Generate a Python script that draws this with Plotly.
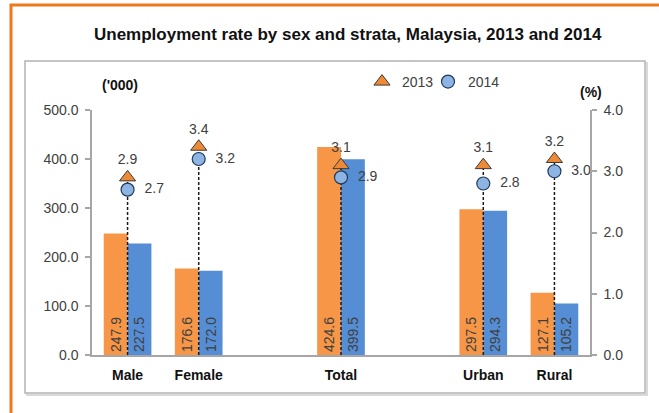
import plotly.graph_objects as go

# ---- data ----
categories = ["Male", "Female", "Total", "Urban", "Rural"]
slots = [0, 1, 3, 5, 6]  # category slot index (gaps between groups)
persons_2013 = [247.9, 176.6, 424.6, 297.5, 127.1]
persons_2014 = [227.5, 172.0, 399.5, 294.3, 105.2]
rate_2013 = [2.9, 3.4, 3.1, 3.1, 3.2]
rate_2014 = [2.7, 3.2, 2.9, 2.8, 3.0]
left_ticks = [0, 100, 200, 300, 400, 500]
right_ticks = [0, 1, 2, 3, 4]

W, H = 659, 413
L, R, T, B = 92, 69, 110, 58
pw, ph = W - L - R, H - T - B


def px(x):
    return (x - L) / pw


def py(y):
    return (H - B - y) / ph


FONT = "Liberation Sans, Arial, sans-serif"
TXT = "#404040"
ORANGE = "#F79646"
BLUE = "#558ED5"

fig = go.Figure()

fig.add_trace(go.Bar(
    x=slots, y=persons_2013, name="2013 persons", showlegend=False,
    marker=dict(color=ORANGE, line=dict(width=0)),
    text=[f"{v:.1f}" for v in persons_2013], textposition="inside",
    insidetextanchor="start", textangle=-90,
    textfont=dict(family=FONT, size=14, color=TXT), hoverinfo="skip"))
fig.add_trace(go.Bar(
    x=slots, y=persons_2014, name="2014 persons", showlegend=False,
    marker=dict(color=BLUE, line=dict(width=0)),
    text=[f"{v:.1f}" for v in persons_2014], textposition="inside",
    insidetextanchor="start", textangle=-90,
    textfont=dict(family=FONT, size=14, color=TXT), hoverinfo="skip"))

# drop lines
lx, ly = [], []
for s, a, b in zip(slots, rate_2013, rate_2014):
    lx += [s, s, None]
    ly += [0, max(a, b), None]
fig.add_trace(go.Scatter(x=lx, y=ly, yaxis="y2", mode="lines", showlegend=False,
                         line=dict(color="#1a1a1a", width=1.5, dash="3px,2px"),
                         hoverinfo="skip"))

fig.add_trace(go.Scatter(
    x=slots, y=rate_2013, yaxis="y2", name="2013", mode="markers+text",
    legend="legend",
    marker=dict(symbol="triangle-up", size=14, color="#EE8A35",
                line=dict(color="#3b3b3b", width=1)),
    text=[f"{v:.1f}" for v in rate_2013], textposition="top center",
    textfont=dict(family=FONT, size=14, color=TXT)))
fig.add_trace(go.Scatter(
    x=slots, y=rate_2014, yaxis="y2", name="2014", mode="markers+text",
    legend="legend2",
    marker=dict(symbol="circle", size=13, color="#8DB4E2",
                line=dict(color="#1F3B5C", width=1.2)),
    text=["  " + f"{v:.1f}" for v in rate_2014], textposition="middle right",
    textfont=dict(family=FONT, size=14, color=TXT)))

shapes = [
    # orange outer frame
    dict(type="rect", xref="paper", yref="paper",
         x0=px(11), x1=px(W + 20), y0=py(H + 20), y1=py(5),
         line=dict(color="#EC7A1C", width=3), layer="below"),
    # gray inner box shadow
    dict(type="rect", xref="paper", yref="paper",
         x0=px(27), x1=px(647), y0=py(395), y1=py(63),
         line=dict(color="#D9D9D9", width=2), layer="below"),
    # gray inner box
    dict(type="rect", xref="paper", yref="paper",
         x0=px(25), x1=px(645), y0=py(393), y1=py(61),
         line=dict(color="#B3B3B3", width=1.5), fillcolor="white", layer="below"),
]

annotations = [
    dict(text="<b>Unemployment rate by sex and strata, Malaysia, 2013 and 2014</b>",
         xref="paper", yref="paper", x=px(348), y=py(34), showarrow=False,
         font=dict(family=FONT, size=17, color="#111111"),
         xanchor="center", yanchor="middle"),
    dict(text="<b>('000)</b>", xref="paper", yref="paper", x=px(120), y=py(85),
         showarrow=False, font=dict(family=FONT, size=14, color="#111111"),
         xanchor="center", yanchor="middle"),
    dict(text="<b>(%)</b>", xref="paper", yref="paper", x=px(591), y=py(92),
         showarrow=False, font=dict(family=FONT, size=14, color="#111111"),
         xanchor="center", yanchor="middle"),
]

leg_common = dict(orientation="h", yanchor="middle", xanchor="left",
                  font=dict(family=FONT, size=14, color=TXT), itemwidth=30,
                  bgcolor="rgba(0,0,0,0)")

fig.update_layout(
    width=W, height=H, margin=dict(l=L, r=R, t=T, b=B, pad=0),
    paper_bgcolor="white", plot_bgcolor="white",
    barmode="group", bargap=0.33, bargroupgap=0,
    font=dict(family=FONT, size=14, color=TXT),
    shapes=shapes, annotations=annotations,
    legend=dict(x=px(362), y=py(82), **leg_common),
    legend2=dict(x=px(428), y=py(82), **leg_common),
    xaxis=dict(range=[-0.5, 6.5], tickvals=slots,
               ticktext=[f"<b>{c}</b>" for c in categories],
               tickfont=dict(family=FONT, size=14, color="#111111"),
               showline=True, linecolor="#A6A6A6", linewidth=1.5,
               showgrid=False, zeroline=False, ticks="", ticklabelstandoff=6,
               fixedrange=True),
    yaxis=dict(range=[0, 500], tickvals=left_ticks,
               ticktext=[f"{v:.1f}" for v in left_ticks],
               tickfont=dict(family=FONT, size=14, color=TXT),
               showline=True, linecolor="#A6A6A6", linewidth=1.5,
               ticks="outside", ticklen=5, tickcolor="#A6A6A6", tickwidth=1.5,
               ticklabelstandoff=4,
               showgrid=False, zeroline=False),
    yaxis2=dict(range=[0, 4], tickvals=right_ticks,
                ticktext=[f"{v:.1f}" for v in right_ticks],
                tickfont=dict(family=FONT, size=14, color=TXT),
                overlaying="y", side="right",
                showline=True, linecolor="#A6A6A6", linewidth=1.5,
                ticks="outside", ticklen=5, tickcolor="#A6A6A6", tickwidth=1.5,
                ticklabelstandoff=4,
                showgrid=False, zeroline=False),
)

fig.write_html("out.html")
